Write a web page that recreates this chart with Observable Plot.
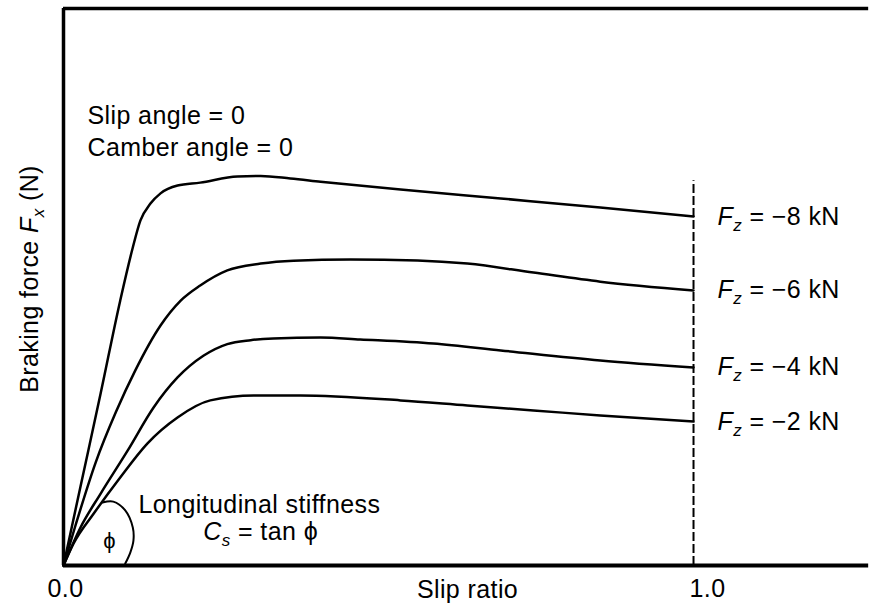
<!DOCTYPE html>
<html><head><meta charset="utf-8">
<script src="https://cdn.jsdelivr.net/npm/d3@7"></script>
<script src="https://cdn.jsdelivr.net/npm/@observablehq/plot@0.6"></script>
<style>
html,body{margin:0;padding:0;background:#fff;overflow:hidden;}
#chart svg{display:block;}
</style></head><body><div id="chart"></div>
<script>
// Braking force vs slip ratio, for four vertical loads (force in N)
const loadLabels = ["F_z = −8 kN", "F_z = −6 kN", "F_z = −4 kN", "F_z = −2 kN"];

const slipM8  = [0, 0.027, 0.059, 0.090, 0.110, 0.122, 0.138, 0.154, 0.181, 0.217, 0.276, 0.313, 0.360, 0.408, 0.535, 0.694, 0.852, 1.0];
const forceM8 = [0, 1620, 3530, 5430, 6520, 7070, 7420, 7630, 7790, 7850, 7975, 7985, 7935, 7870, 7710, 7525, 7340, 7155];

const slipM6  = [0, 0.019, 0.051, 0.083, 0.114, 0.154, 0.186, 0.217, 0.260, 0.313, 0.365, 0.456, 0.562, 0.641, 0.746, 0.852, 1.0];
const forceM6 = [0, 820, 2110, 3140, 4000, 4920, 5430, 5740, 6050, 6190, 6250, 6275, 6255, 6190, 6005, 5820, 5640];

const slipM4  = [0, 0.027, 0.059, 0.102, 0.143, 0.181, 0.222, 0.260, 0.297, 0.333, 0.408, 0.471, 0.587, 0.694, 0.852, 1.0];
const forceM4 = [0, 780, 1475, 2360, 3240, 3855, 4300, 4540, 4620, 4655, 4675, 4635, 4550, 4410, 4205, 4060];

const slipM2  = [0, 0.016, 0.048, 0.090, 0.133, 0.181, 0.233, 0.302, 0.376, 0.535, 0.641, 0.746, 0.852, 1.0];
const forceM2 = [0, 450, 1065, 1805, 2500, 3035, 3385, 3485, 3485, 3385, 3280, 3180, 3075, 2950];

// angle phi marker (arc near the origin)
const arcSlip  = [0.062, 0.079, 0.098, 0.110, 0.111, 0.106, 0.098];
const arcForce = [1290, 1310, 1130, 780, 510, 265, 40];

// axis
const xTickLabels = ["0.0", "1.0"];
const xTicks = [0, 1];
const xTitle = "Slip ratio";
const yTitle = "Braking force F_x (N)";
const xMax = 1.2825, yMax = 11420;
const frameEnd = 1.278;
const slipLimit = 1.0, slipLimitTop = 7890;

// annotations (data coordinates)
const noteText  = ["Slip angle = 0", "Camber angle = 0"];
const noteSlip  = [0.038, 0.038];
const noteForce = [9225, 8569];
const stiffText  = ["Longitudinal stiffness", "C_s = tan ϕ"];
const stiffSlip  = [0.311, 0.313];
const stiffForce = [1250, 677];
const phiSymbol = ["ϕ"], phiSlip = [0.073], phiForce = [512];

const seriesSlip = [slipM8, slipM6, slipM4, slipM2];
const seriesForce = [forceM8, forceM6, forceM4, forceM2];
const curves = seriesSlip.flatMap((xs, i) => xs.map((x, j) => ({series: loadLabels[i], slip: x, force: seriesForce[i][j]})));
const ends = seriesSlip.map((xs, i) => ({label: loadLabels[i], slip: xs[xs.length - 1], force: seriesForce[i][seriesForce[i].length - 1]}));
const arc = arcSlip.map((x, i) => ({slip: x, force: arcForce[i]}));
const notes = noteText.map((t, i) => ({t, slip: noteSlip[i], force: noteForce[i]}));
const stiff = stiffText.map((t, i) => ({t, slip: stiffSlip[i], force: stiffForce[i]}));
const phi = phiSymbol.map((t, i) => ({t, slip: phiSlip[i], force: phiForce[i]}));

const font = "'Liberation Sans', Arial, Helvetica, sans-serif";

const plot = Plot.plot({
  width: 871, height: 605,
  marginLeft: 63, marginRight: 0, marginTop: 8, marginBottom: 40,
  style: {fontFamily: font, fontSize: "25px", color: "#000", background: "#fff", letterSpacing: "0.4px"},
  x: {domain: [0, xMax], axis: null},
  y: {domain: [0, yMax], axis: null},
  marks: [
    Plot.ruleX([0], {stroke: "#000", strokeWidth: 3.5}),
    Plot.ruleY([0], {x1: 0, x2: frameEnd, stroke: "#000", strokeWidth: 4}),
    Plot.ruleY([yMax], {x1: 0, x2: frameEnd, stroke: "#000", strokeWidth: 3.5}),
    Plot.ruleX([slipLimit], {y1: 0, y2: slipLimitTop, stroke: "#000", strokeWidth: 2, strokeDasharray: "9,3"}),
    Plot.line(curves, {x: "slip", y: "force", z: "series", stroke: "#000", strokeWidth: 2.5, curve: "monotone-x"}),
    Plot.line(arc, {x: "slip", y: "force", stroke: "#000", strokeWidth: 2, curve: "catmull-rom"}),
    Plot.text(ends, {x: "slip", y: "force", text: "label", dx: 24, textAnchor: "start", lineAnchor: "middle", fontSize: 25, letterSpacing: "0.9px"}),
    Plot.text(notes, {x: "slip", y: "force", text: "t", textAnchor: "start", lineAnchor: "middle", fontSize: 25}),
    Plot.text(stiff, {x: "slip", y: "force", text: "t", textAnchor: "middle", lineAnchor: "middle", fontSize: 25}),
    Plot.text(phi, {x: "slip", y: "force", text: "t", textAnchor: "middle", lineAnchor: "middle", fontSize: 22}),
    Plot.text([yTitle], {frameAnchor: "left", rotate: -90, dx: -34, dy: -8, textAnchor: "middle", lineAnchor: "middle", fontSize: 25}),
    Plot.axisX([xTicks[0]], {tickFormat: () => xTickLabels[0], tickSize: 0, tickPadding: 14, fontSize: 25, dx: 2, label: null}),
    Plot.axisX([xTicks[1]], {tickFormat: () => xTickLabels[1], tickSize: 0, tickPadding: 14, fontSize: 25, dx: 14, label: null}),
    Plot.text([xTitle], {frameAnchor: "bottom", dy: 24, textAnchor: "middle", lineAnchor: "middle", fontSize: 25})
  ]
});

// italic symbols with subscripts
const NS = "http://www.w3.org/2000/svg";
plot.querySelectorAll("text").forEach(el => {
  const s = el.textContent;
  const m = s.match(/^(.*?)([A-Za-z])_([a-z])(.*)$/);
  if (!m) return;
  while (el.firstChild) el.removeChild(el.firstChild);
  const add = (t, attrs) => { const ts = document.createElementNS(NS, "tspan"); ts.textContent = t; for (const k in attrs) ts.setAttribute(k, attrs[k]); el.appendChild(ts); };
  if (m[1]) add(m[1], {});
  add(m[2], {"font-style": "italic"});
  add(m[3], {"font-style": "italic", "font-size": "17px", "dy": "6"});
  add(m[4], {"dy": "-6"});
});

document.getElementById("chart").appendChild(plot);
</script>
</body></html>
